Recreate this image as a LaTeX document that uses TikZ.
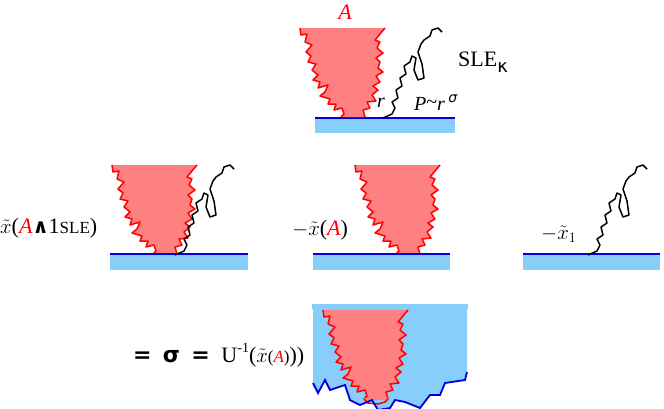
\documentclass[tikz,border=0pt]{standalone}
\usepackage{fontspec}
\setmainfont{Liberation Serif}
\newfontfamily\dvs{DejaVu Sans}
\begin{document}
\begin{tikzpicture}[x=1pt,y=-1pt,
  blob/.style={fill={rgb,255:red,255;green,128;blue,128},draw=red,line width=1.5pt,line join=round},
  sle/.style={draw=black,line width=1.5pt,line join=round},
  bar/.style={fill={rgb,255:red,135;green,206;blue,250}},
  barline/.style={draw={rgb,255:red,0;green,0;blue,220},line width=1.8pt},
  lbl/.style={inner sep=0pt,font=\fontsize{22}{22}\selectfont}]
\useasboundingbox (0,0) rectangle (664,408);
\def\lside{(300,28) -- (301,35) -- (307,34) -- (305,42) -- (312,45) -- (306,52) -- (311,56) -- (308,62) -- (316,64) -- (312,70) -- (318,75) -- (313,80) -- (320,82) -- (318,88) -- (328,85) -- (325,92) -- (320,96) -- (330,99) -- (328,104) -- (336,104) -- (334,110) -- (342,108) -- (344,114) -- (341,117)}
\def\rside{(365,117) -- (363,110) -- (370,108) -- (367,102) -- (376,101) -- (372,95) -- (378,90) -- (373,86) -- (380,82) -- (376,76) -- (383,72) -- (378,68) -- (380,62) -- (376,58) -- (383,53) -- (377,48) -- (380,42) -- (375,40) -- (380,34) -- (385,28)}
\def\slepath{(383,118) -- (392,114) -- (395,108) -- (392,102) -- (398,98) -- (396,90) -- (402,86) -- (400,78) -- (406,74) -- (404,66) -- (410,62) -- (412,56) -- (416,58) -- (414,70) -- (418,80) -- (424,78) -- (422,64) -- (418,52) -- (421,44) -- (424,40) -- (430,36) -- (432,30) -- (438,28) -- (442,32)}
\def\blobpath{\lside -- \rside}
% top
\fill[bar] (315,118) rectangle (455,133);
\draw[barline] (315,118) -- (455,118);
\fill[blob,draw=none] \blobpath -- cycle;
\draw[blob,fill=none] \lside;
\draw[blob,fill=none] \rside;
\draw[sle] \slepath;
\node[lbl,text=red] (A) at (345,12) {\itshape A};
\node[lbl,anchor=west] (sl) at (458,62) {SLE\raisebox{-6pt}{\dvs\fontsize{18}{18}\selectfont κ}};
\node[lbl,font=\fontsize{20}{20}\selectfont\itshape] (r) at (381,103) {r};
\node[lbl,font=\fontsize{20}{20}\selectfont,anchor=west] (P) at (414,103) {\itshape P\raisebox{2pt}{\upshape\char`~}r\,\raisebox{8pt}{\dvs\fontsize{14}{14}\selectfont σ}};
% middle left
\begin{scope}[shift={(-188,137)}]
\fill[blob,draw=none] \blobpath -- cycle;
\draw[blob,fill=none] \lside; \draw[blob,fill=none] \rside;
\end{scope}
\fill[bar] (110,254) rectangle (248,270);
\draw[barline] (110,254) -- (248,254);
\begin{scope}[shift={(-208,137)}]
\draw[sle] \slepath;
\end{scope}
\node[lbl,anchor=west] (l1) at (0,228) {$\tilde{x}$(\textcolor{red}{\itshape A}{\dvs\bfseries\fontsize{20}{20}\selectfont ∧}1{\fontsize{17}{17}\selectfont SLE})};
% middle center
\begin{scope}[shift={(55,137)}]
\fill[blob,draw=none] \blobpath -- cycle;
\draw[blob,fill=none] \lside; \draw[blob,fill=none] \rside;
\end{scope}
\fill[bar] (313,254) rectangle (450,270);
\draw[barline] (313,254) -- (450,254);
\node[lbl,anchor=west] (l2) at (292,230) {$-\tilde{x}$(\textcolor{red}{\itshape A})};
% middle right
\fill[bar] (523,254) rectangle (660,270);
\draw[barline] (523,254) -- (660,254);
\begin{scope}[shift={(205,137)}]
\draw[sle] \slepath;
\end{scope}
\node[lbl,anchor=west,font=\fontsize{20}{20}\selectfont] (l3) at (541,234) {$-\tilde{x}_{1}$};
% bottom
\fill[bar] (313,307) -- (467,307) -- (467,372) -- (465,380) -- (445,383) -- (440,395) -- (430,395) -- (420,408) -- (405,402) -- (395,400) -- (390,408) -- (378,410) -- (372,400) -- (360,405) -- (350,400) -- (345,385) -- (330,390) -- (325,380) -- (318,393) -- (313,383) -- cycle;
\begin{scope}[shift={(23,282)}]
\fill[blob,draw=none] \blobpath -- cycle;
\draw[blob,fill=none] \lside; \draw[blob,fill=none] \rside;
\fill[blob,draw=none] (341,116) rectangle (365,118);
\draw[blob,fill=none] (341,117) -- (345,121) -- (355,122) -- (362,120) -- (365,117);
\end{scope}
\fill[bar] (312,304) rectangle (468,309);
\draw[barline] (313,383) -- (318,393) -- (325,380) -- (330,390) -- (345,385) -- (350,400) -- (360,405) -- (372,400) -- (378,410) -- (390,408) -- (395,400) -- (405,402) -- (420,408) -- (430,395) -- (440,395) -- (445,383) -- (465,380) -- (467,372);
\node[lbl,anchor=west] (eq) at (133,355) {{\dvs\bfseries =\, σ\, =}\; U\raisebox{10pt}{\fontsize{14}{14}\selectfont -1}($\tilde{x}${\fontsize{17}{17}\selectfont(\textcolor{red}{\itshape A})}))};
\end{tikzpicture}
\end{document}
